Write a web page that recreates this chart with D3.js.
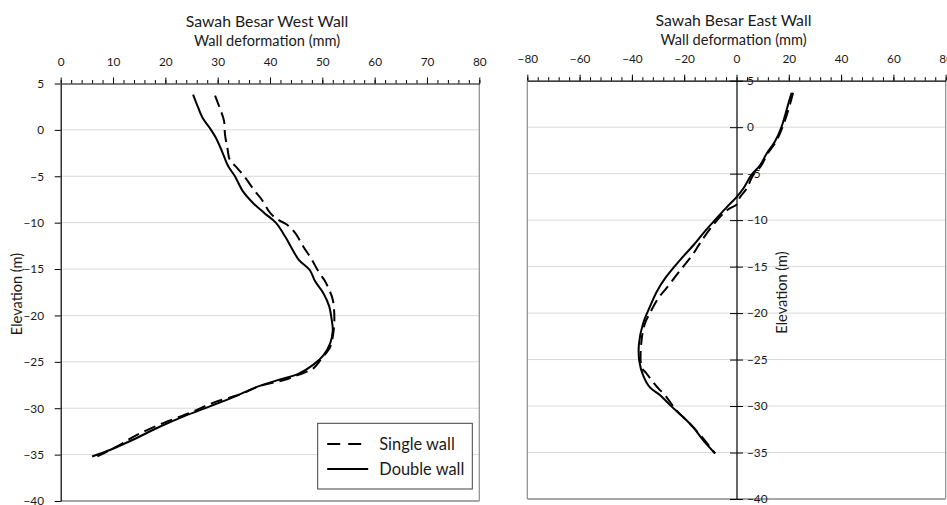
<!DOCTYPE html>
<html>
<head>
<meta charset="utf-8">
<script src="https://cdn.jsdelivr.net/npm/d3@7/dist/d3.min.js"></script>
<style>
  html, body { margin: 0; padding: 0; background: #fff; }
  svg { display: block; font-family: Lato, "Open Sans", sans-serif; }
</style>
</head>
<body>
<svg id="chart" width="947" height="505"></svg>
<script>
// Elevation tick values (m), shared by both panels
const elevationTicks = [5, 0, -5, -10, -15, -20, -25, -30, -35, -40];
const gridElevations = [0, -5, -10, -15, -20, -25, -30, -35];

// West wall deformation ticks (mm)
const westMajorTicks = [0, 10, 20, 30, 40, 50, 60, 70, 80];
// East wall deformation ticks (mm)
const eastMajorTicks = [-80, -60, -40, -20, 0, 20, 40, 60, 80];

// Series: [deformation mm, elevation m]
const westSingle = [
  [29.5, 3.7], [30.3, 2.5], [31.2, 1.0], [31.4, -0.5], [31.9, -2.1], [32.3, -3.2],
  [33.7, -4.1], [35.2, -5.1], [37.1, -6.6], [38.4, -7.5], [40.1, -9.0], [41.6, -9.7],
  [43.2, -10.2], [44.8, -11.1], [46.5, -12.7], [47.8, -13.8], [49.3, -15.3], [50.5, -16.3],
  [51.2, -17.1], [52.0, -18.3], [52.3, -20.3], [52.1, -21.9], [51.5, -23.4], [49.9, -24.6],
  [48.3, -25.7], [45.4, -26.4], [42.5, -27.0], [38.1, -27.6], [34.3, -28.5], [29.2, -29.4],
  [24.7, -30.5], [19.6, -31.6], [14.5, -32.9], [10.5, -34.2], [7.0, -35.2]
];
const westDouble = [
  [25.3, 3.8], [26.2, 2.5], [27.1, 1.3], [28.5, 0.2], [29.8, -1.0], [31.1, -2.7],
  [32.0, -3.9], [33.3, -5.0], [34.8, -6.6], [36.8, -7.9], [39.0, -9.0], [41.1, -10.0],
  [42.9, -11.5], [44.1, -12.7], [45.5, -14.0], [47.6, -15.1], [48.6, -16.3], [50.2, -17.6],
  [51.3, -19.0], [51.8, -20.5], [52.0, -21.6], [51.5, -23.0], [50.2, -24.3], [48.3, -25.3],
  [45.4, -26.3], [41.3, -27.0], [37.5, -27.7], [33.0, -28.8], [28.5, -29.8], [23.4, -30.9],
  [18.9, -32.0], [13.8, -33.4], [9.4, -34.5], [6.0, -35.2]
];
const eastSingle = [
  [21.6, 3.7], [20.5, 2.5], [17.6, 0.0], [15.0, -1.6], [11.8, -2.9], [9.3, -4.2],
  [6.3, -5.2], [3.9, -6.6], [1.2, -7.6], [0.1, -8.3], [-3.5, -8.9], [-8.9, -10.5],
  [-14.0, -12.5], [-16.5, -13.6], [-20.4, -15.0], [-22.9, -15.9], [-26.7, -17.3],
  [-29.9, -18.4], [-33.1, -20.0], [-35.0, -21.1], [-36.3, -22.9], [-36.3, -25.8],
  [-34.4, -26.5], [-29.9, -28.1], [-27.4, -28.8], [-22.9, -30.5], [-17.8, -31.9],
  [-13.3, -33.3], [-8.2, -35.1]
];
const eastDouble = [
  [21.1, 3.7], [20.2, 2.9], [17.3, 0.1], [14.7, -1.55], [11.6, -2.8], [9.0, -4.1],
  [5.8, -5.1], [2.6, -6.6], [0.1, -7.5], [-3.7, -8.6], [-7.6, -9.8], [-12.1, -11.2],
  [-16.5, -12.7], [-21.6, -14.3], [-27.4, -16.3], [-30.5, -17.7], [-33.1, -19.3],
  [-35.7, -21.1], [-37.3, -23.3], [-37.2, -25.1], [-35.7, -26.7], [-33.1, -28.0],
  [-29.3, -28.8], [-25.4, -29.9], [-20.3, -31.2], [-16.5, -32.3], [-12.7, -33.7],
  [-8.2, -35.1]
];

const seriesNames = ["Single wall", "Double wall"];

const svg = d3.select("#chart");
const textColor = "#1a1a1a";
const borderColor = "#8c8c8c";
const gridColor = "#d9d9d9";
const dash = "12,6";
const tickFont = "11.8px";

function drawPanel(opt) {
  const x = d3.scaleLinear().domain(opt.xDomain).range([opt.left, opt.right]);
  const y = d3.scaleLinear().domain([5, -40]).range([opt.top, opt.bottom]);
  const g = svg.append("g");

  // horizontal gridlines
  g.selectAll("line.grid").data(gridElevations).join("line")
    .attr("x1", opt.left).attr("x2", opt.right)
    .attr("y1", d => y(d)).attr("y2", d => y(d))
    .attr("stroke", gridColor).attr("stroke-width", 1);

  // plot-area border (right, bottom and, if set, left)
  g.append("line").attr("x1", opt.right).attr("x2", opt.right)
    .attr("y1", opt.top).attr("y2", opt.bottom)
    .attr("stroke", borderColor).attr("stroke-width", 1.2);
  g.append("line").attr("x1", opt.left).attr("x2", opt.right)
    .attr("y1", opt.bottom).attr("y2", opt.bottom)
    .attr("stroke", "#a6a6a6").attr("stroke-width", 1.8);
  if (opt.leftBorder) {
    g.append("line").attr("x1", opt.left).attr("x2", opt.left)
      .attr("y1", opt.top).attr("y2", opt.bottom)
      .attr("stroke", borderColor).attr("stroke-width", 1.2);
  }

  // top deformation axis: minor then major ticks
  const minor = d3.range(opt.xDomain[0], opt.xDomain[1] + 0.001, opt.minorStep);
  g.append("g").attr("transform", `translate(0,${opt.top})`)
    .call(d3.axisTop(x).tickValues(minor).tickSize(3.5).tickSizeOuter(0).tickFormat(""))
    .call(a => a.select(".domain").remove())
    .call(a => a.selectAll("line").attr("stroke", "#000"));
  g.append("g").attr("transform", `translate(0,${opt.top})`)
    .call(d3.axisTop(x).tickValues(opt.majorTicks).tickSize(6).tickSizeOuter(0).tickPadding(11.5))
    .call(a => a.select(".domain").attr("stroke", "#000").attr("stroke-width", 1.2))
    .call(a => a.selectAll("line").attr("stroke", "#000"))
    .call(a => a.selectAll("text").attr("fill", textColor)
      .style("font-size", tickFont).style("font-family", "Lato, sans-serif"));

  // elevation axis
  const ax = opt.yAxisAt === undefined ? opt.left : x(opt.yAxisAt);
  if (opt.yAxisAt === undefined) {
    g.append("g").attr("transform", `translate(${ax},0)`)
      .call(d3.axisLeft(y).tickValues(elevationTicks).tickSize(6).tickSizeOuter(0).tickPadding(10.7))
      .call(a => a.select(".domain").attr("stroke", "#000").attr("stroke-width", 1.2))
      .call(a => a.selectAll("line").attr("stroke", "#000"))
      .call(a => a.selectAll("text").attr("fill", textColor)
        .style("font-size", tickFont).style("font-family", "Lato, sans-serif"));
  } else {
    g.append("g").attr("transform", `translate(${ax},0)`)
      .call(d3.axisLeft(y).tickValues(elevationTicks).tickSize(6.5).tickSizeOuter(0).tickFormat(""))
      .call(a => a.select(".domain").attr("stroke", "#000").attr("stroke-width", 1.2))
      .call(a => a.selectAll("line").attr("stroke", "#000"));
    g.append("g").attr("transform", `translate(${ax},0)`)
      .call(d3.axisRight(y).tickValues(elevationTicks).tickSize(6.5).tickSizeOuter(0).tickPadding(4))
      .call(a => a.select(".domain").remove())
      .call(a => a.selectAll("line").attr("stroke", "#000"))
      .call(a => a.selectAll("text").attr("fill", textColor)
        .style("font-size", tickFont).style("font-family", "Lato, sans-serif"));
  }

  // titles
  g.append("text").attr("x", opt.titleX).attr("y", opt.titleY)
    .attr("text-anchor", "middle").attr("fill", textColor)
    .style("font-size", "15.8px").text(opt.title);
  g.append("text").attr("x", opt.titleX).attr("y", opt.axisTitleY)
    .attr("text-anchor", "middle").attr("fill", textColor)
    .style("font-size", "14.6px").text("Wall deformation (mm)");
  g.append("text")
    .attr("transform", `translate(${opt.yTitleX},${opt.yTitleY}) rotate(-90)`)
    .attr("text-anchor", "middle").attr("fill", textColor)
    .style("font-size", "14.6px").text("Elevation (m)");

  // series
  const line = d3.line().x(d => x(d[0])).y(d => y(d[1]))
    .curve(d3.curveCatmullRom.alpha(0.5));
  g.append("path").datum(opt.single).attr("d", line)
    .attr("fill", "none").attr("stroke", "#000").attr("stroke-width", 2)
    .attr("stroke-dasharray", dash);
  g.append("path").datum(opt.double).attr("d", line)
    .attr("fill", "none").attr("stroke", "#000").attr("stroke-width", 2);

  return { x, y };
}

drawPanel({
  xDomain: [0, 80], left: 60.7, right: 479.3, top: 83.5, bottom: 501,
  majorTicks: westMajorTicks, minorStep: 2,
  title: "Sawah Besar West Wall", titleX: 267, titleY: 27, axisTitleY: 46,
  yTitleX: 22, yTitleY: 294,
  single: westSingle, double: westDouble
});

drawPanel({
  xDomain: [-80, 80], left: 527.3, right: 945.7, top: 80.7, bottom: 499,
  majorTicks: eastMajorTicks, minorStep: 4, yAxisAt: 0, leftBorder: true,
  title: "Sawah Besar East Wall", titleX: 733.5, titleY: 26, axisTitleY: 44.5,
  yTitleX: 787, yTitleY: 292.5,
  single: eastSingle, double: eastDouble
});

// legend
const legend = svg.append("g").attr("transform", "translate(317.7,423.3)");
legend.append("rect").attr("width", 154.6).attr("height", 65.7)
  .attr("fill", "#fff").attr("stroke", "#404040").attr("stroke-width", 1);
const entries = legend.selectAll("g.entry").data(seriesNames).join("g")
  .attr("transform", (d, i) => `translate(0,${20.7 + i * 25})`);
entries.append("line").attr("x1", 9.5).attr("x2", 50.5)
  .attr("stroke", "#000").attr("stroke-width", 2)
  .attr("stroke-dasharray", (d, i) => i === 0 ? "13,8" : null);
entries.append("text").attr("x", 61.6).attr("dy", "0.35em")
  .attr("fill", textColor).style("font-size", "16.4px").text(d => d);
</script>
</body>
</html>
